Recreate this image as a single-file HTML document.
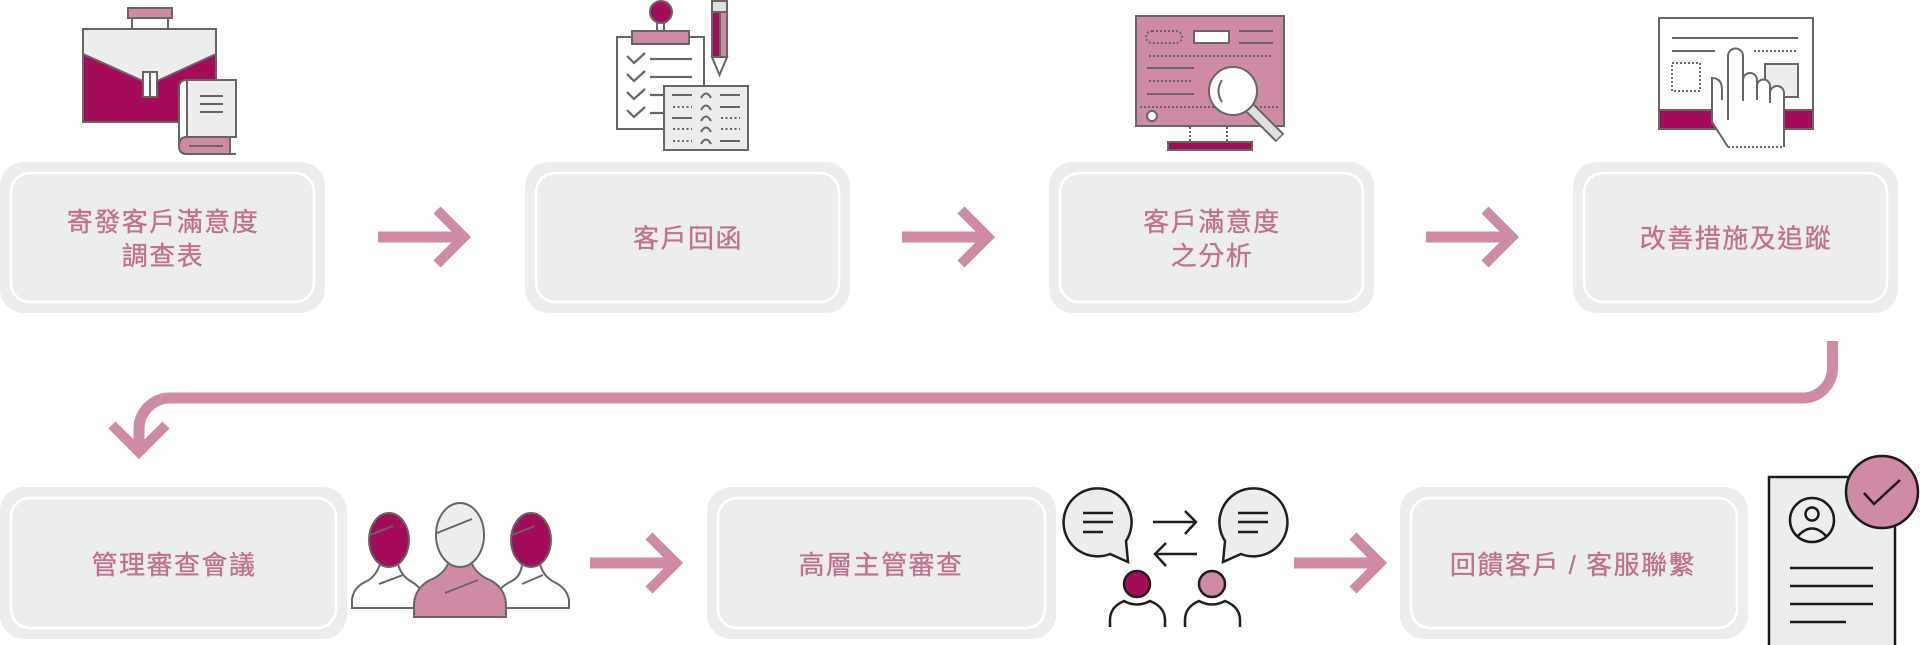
<!DOCTYPE html>
<html>
<head>
<meta charset="utf-8">
<style>
html,body{margin:0;padding:0;background:#fff;}
body{width:1920px;height:645px;overflow:hidden;}
svg{display:block;}
.t{font-family:"Liberation Sans","Noto Sans CJK TC",sans-serif;font-size:26px;fill:#c2708f;stroke:#c2708f;stroke-width:0.35px;letter-spacing:1.5px;text-anchor:middle;}
</style>
</head>
<body>
<svg width="1920" height="645" viewBox="0 0 1920 645" xmlns="http://www.w3.org/2000/svg">
<!-- ===== Boxes top row ===== -->
<g>
  <rect x="0" y="162" width="325" height="151" rx="24" fill="#eceeed"/>
  <rect x="11" y="173" width="303" height="129" rx="19" fill="none" stroke="#fff" stroke-width="2.5"/>
  <rect x="525" y="162" width="325" height="151" rx="24" fill="#eceeed"/>
  <rect x="536" y="173" width="303" height="129" rx="19" fill="none" stroke="#fff" stroke-width="2.5"/>
  <rect x="1049" y="162" width="325" height="151" rx="24" fill="#eceeed"/>
  <rect x="1060" y="173" width="303" height="129" rx="19" fill="none" stroke="#fff" stroke-width="2.5"/>
  <rect x="1573" y="162" width="325" height="151" rx="24" fill="#eceeed"/>
  <rect x="1584" y="173" width="303" height="129" rx="19" fill="none" stroke="#fff" stroke-width="2.5"/>
</g>
<!-- ===== Boxes bottom row ===== -->
<g>
  <rect x="0" y="487" width="347" height="152" rx="24" fill="#eceeed"/>
  <rect x="11" y="498" width="325" height="130" rx="19" fill="none" stroke="#fff" stroke-width="2.5"/>
  <rect x="707" y="487" width="349" height="152" rx="24" fill="#eceeed"/>
  <rect x="718" y="498" width="327" height="130" rx="19" fill="none" stroke="#fff" stroke-width="2.5"/>
  <rect x="1400" y="487" width="348" height="152" rx="24" fill="#eceeed"/>
  <rect x="1411" y="498" width="326" height="130" rx="19" fill="none" stroke="#fff" stroke-width="2.5"/>
</g>

<!-- ===== Labels ===== -->
<text class="t" x="163" y="231">寄發客戶滿意度</text>
<text class="t" x="163" y="265">調查表</text>
<text class="t" x="688" y="247.5">客戶回函</text>
<text class="t" x="1212" y="231">客戶滿意度</text>
<text class="t" x="1212" y="265">之分析</text>
<text class="t" x="1736" y="247.5">改善措施及追蹤</text>
<text class="t" x="174" y="574">管理審查會議</text>
<text class="t" x="881" y="574">高層主管審查</text>
<text class="t" x="1573" y="574">回饋客戶 / 客服聯繫</text>

<!-- ===== Arrows ===== -->
<g stroke="#cf8aa5" fill="none" stroke-linejoin="miter" stroke-linecap="butt">
  <line x1="378" y1="237" x2="464" y2="237" stroke-width="11"/>
  <polyline points="437,210 464,237 437,264" stroke-width="10"/>
  <line x1="902" y1="237" x2="988" y2="237" stroke-width="11"/>
  <polyline points="961,210 988,237 961,264" stroke-width="10"/>
  <line x1="1426" y1="237" x2="1512" y2="237" stroke-width="11"/>
  <polyline points="1485,210 1512,237 1485,264" stroke-width="10"/>

  <line x1="590" y1="563" x2="676" y2="563" stroke-width="11"/>
  <polyline points="649,536 676,563 649,590" stroke-width="10"/>
  <line x1="1294" y1="563" x2="1380" y2="563" stroke-width="11"/>
  <polyline points="1353,536 1380,563 1353,590" stroke-width="10"/>

  <path d="M1832.5 341 V368 A30 30 0 0 1 1802.5 398 H170 A31 31 0 0 0 139 429 V454" stroke-width="11"/>
  <polyline points="112,425 139,452 166,425" stroke-width="10"/>
</g>

<!-- ===== Icon 1: briefcase + book ===== -->
<g stroke="#666" stroke-width="2">
  <rect x="128" y="8" width="44" height="10" fill="#cf8aa5"/>
  <path d="M132 18 V29 M168 18 V29" fill="none"/>
  <rect x="83" y="29" width="133" height="93" fill="#a50d5a"/>
  <path d="M83 29 H216 V54 L157 81 H143 L83 54 Z" fill="#eceeed"/>
  <rect x="143" y="72" width="14" height="25" fill="#fff"/>
  <line x1="150" y1="72" x2="150" y2="97"/>
  <path d="M187 80 Q179 80 179 88 V146 Q179 137 187 137 Z" fill="#fff"/>
  <rect x="187" y="80" width="49" height="57" fill="#eceeed"/>
  <path d="M187 137 H230 V154 H187 Q179 154 179 146 Q179 137 187 137 Z" fill="#cf8aa5"/>
  <path d="M187 154 H236" fill="none"/>
  <path d="M200 96 H223 M200 104 H223 M200 112 H223 M189 146 H223" fill="none"/>
</g>

<!-- ===== Icon 2: clipboard ===== -->
<g stroke="#666" stroke-width="2">
  <rect x="617" y="37" width="87" height="92" fill="#fff"/>
  <rect x="657" y="22" width="7" height="10" fill="#fff"/>
  <circle cx="661" cy="12" r="11" fill="#a50d5a"/>
  <rect x="632" y="31" width="57" height="13" fill="#cf8aa5"/>
  <g fill="none" stroke-width="2.2">
    <path d="M627 56 L634 63 L645 53"/>
    <path d="M627 74 L634 81 L645 71"/>
    <path d="M627 92 L634 99 L645 89"/>
    <path d="M627 110 L634 117 L645 107"/>
    <path d="M650 59 H692 M650 77 H692 M650 95 H692 M650 113 H692"/>
  </g>
  <!-- pencil -->
  <rect x="712" y="1" width="15" height="11" fill="#dfe1e1"/>
  <rect x="712" y="12" width="8" height="45" fill="#a50d5a"/>
  <rect x="720" y="12" width="7" height="45" fill="#cf8aa5"/>
  <rect x="712" y="12" width="15" height="45" fill="none"/>
  <path d="M712 57 L719.5 75 L727 57 Z" fill="#fff"/>
  <!-- sheet -->
  <rect x="664" y="86" width="84" height="64" fill="#eceeed"/>
  <g fill="none" stroke-width="2">
    <path d="M672 95 H692 M672 118 H692"/>
    <path d="M673 107 H692 M673 129 H692 M673 141 H692" stroke-dasharray="2 2.5"/>
    <path d="M720 95 H740 M720 107 H740 M720 141 H740"/>
    <path d="M721 118 H740 M721 129 H740" stroke-dasharray="2 2.5"/>
    <path d="M701 98 Q706 89 711 98 M701 110 Q706 101 711 110 M701 121 Q706 112 711 121 M701 132 Q706 123 711 132 M701 144 Q706 135 711 144"/>
  </g>
</g>

<!-- ===== Icon 3: monitor + magnifier ===== -->
<g stroke="#666" stroke-width="2">
  <rect x="1136" y="16" width="148" height="110" fill="#cf8aa5"/>
  <rect x="1146" y="31" width="36" height="12" rx="6" fill="none" stroke-dasharray="2 2"/>
  <rect x="1194" y="31" width="35" height="12" fill="#fff"/>
  <path d="M1239 31 H1273 M1239 43 H1273 M1147 68 H1194 M1147 94 H1194" fill="none"/>
  <path d="M1149 56 H1272 M1149 81 H1192 M1140 107 H1280" fill="none" stroke-dasharray="2 2"/>
  <circle cx="1152" cy="116" r="5" fill="#fff"/>
  <path d="M1190 127 V142 M1227 127 V142" fill="none" stroke-dasharray="2 2"/>
  <rect x="1168" y="142" width="84" height="8" fill="#a50d5a"/>
  <line x1="1249" y1="107" x2="1280" y2="138" stroke-width="12" stroke="#666"/>
  <line x1="1250" y1="108" x2="1279" y2="137" stroke-width="8" stroke="#dfe1e1"/>
  <circle cx="1233" cy="91" r="24" fill="#fff"/>
  <path d="M1222 80 Q1215 91 1222 102" fill="none"/>
</g>

<!-- ===== Icon 4: tablet + hand ===== -->
<g stroke="#666" stroke-width="2">
  <rect x="1659" y="18" width="154" height="111" fill="#fff"/>
  <rect x="1659" y="110" width="154" height="19" fill="#a50d5a"/>
  <path d="M1672 38 H1798 M1672 51 H1715" fill="none"/>
  <path d="M1754 51 H1796" fill="none" stroke-dasharray="2 2"/>
  <rect x="1672" y="63" width="28" height="28" fill="none" stroke-dasharray="2 2"/>
  <rect x="1765" y="64" width="33" height="33" fill="#eceeed"/>
  <path d="M1712,122 V80 Q1712,76 1717,78 Q1722,82 1722,90 L1728,90 V56 Q1728,49 1735.5,49 Q1743,49 1743,56 V80 Q1743,73 1750,73 Q1757,73 1757,80 V86 Q1757,79 1763.5,79 Q1770,79 1770,86 V93 Q1770,86 1777,86 Q1784,86 1784,93 V147 H1728 Z" fill="#fff" stroke="none"/>
  <g fill="none">
    <path d="M1728 147 L1712 122 V78 Q1722 78 1722 90 V100"/>
    <path d="M1728 120 V56 A7.5 7.5 0 0 1 1743 56 V101"/>
    <path d="M1743 80 A7 7 0 0 1 1757 80 V100"/>
    <path d="M1757 86 A6.5 6.5 0 0 1 1770 86 V103"/>
    <path d="M1770 93 A7 7 0 0 1 1784 93 V147"/>
    <path d="M1728 147 H1784" stroke-dasharray="2 2"/>
  </g>
</g>

<!-- ===== People group ===== -->
<g stroke="#666" stroke-width="2">
  <path d="M352,608 V600 Q353,588 365,582 Q376,577 380,564 L398,564 Q401,576 412,582 Q422,588 426,600 V608 Z" fill="#fff"/>
  <ellipse cx="389" cy="540" rx="20" ry="27" fill="#a50d5a"/>
  <path d="M370 535 L393 526 M379 584 L403 575" fill="none"/>
  <path d="M494,608 V600 Q498,588 510,582 Q521,577 522,564 L540,564 Q543,576 554,582 Q567,588 569,600 V608 Z" fill="#fff"/>
  <ellipse cx="531" cy="540" rx="20" ry="27" fill="#a50d5a"/>
  <path d="M512 535 L535 526 M522 584 L543 575" fill="none"/>
  <path d="M414,617 V604 Q415,588 430,580 Q445,574 449,561 L471,561 Q475,574 490,580 Q505,588 506,604 V617 Z" fill="#cf8aa5"/>
  <ellipse cx="460" cy="535" rx="24" ry="32" fill="#eceeed"/>
  <path d="M437 533 L472 519 M445 593 L478 580" fill="none"/>
</g>

<!-- ===== Communication icon ===== -->
<g stroke="#1f1f1f" stroke-width="2.5" fill="none">
  <path d="M1126,541 L1128,562 L1110,554 A34 34 0 1 1 1126,541 Z" fill="#eceeed"/>
  <path d="M1083 513 H1113 M1083 522 H1113 M1083 532 H1103"/>
  <path d="M1225,541 L1223,562 L1241,554 A34 34 0 1 0 1225,541 Z" fill="#eceeed"/>
  <path d="M1238 513 H1268 M1238 522 H1268 M1238 532 H1258"/>
  <path d="M1153 522 H1195 M1185 511 L1196 522 L1185 534"/>
  <path d="M1156 554 H1197 M1166 543 L1155 554 L1166 566"/>
  <circle cx="1137" cy="584" r="13" fill="#a50d5a"/>
  <path d="M1110 627 V620 Q1110 607 1124 601 Q1137 608 1150 601 Q1165 607 1165 620 V627"/>
  <circle cx="1212" cy="584" r="13" fill="#cf8aa5"/>
  <path d="M1185 627 V620 Q1185 607 1199 601 Q1212 608 1225 601 Q1240 607 1240 620 V627"/>
</g>

<!-- ===== Document icon ===== -->
<g stroke="#1a1a1a" stroke-width="2.5" fill="none">
  <rect x="1769" y="477" width="126" height="180" fill="#eceeed"/>
  <circle cx="1812" cy="520" r="22"/>
  <circle cx="1812" cy="514" r="6.5"/>
  <path d="M1797 537 Q1812 520 1827 537"/>
  <path d="M1790 568 H1873 M1790 586 H1873 M1790 604 H1873 M1790 622 H1846"/>
  <circle cx="1882" cy="492" r="36" fill="#cf8aa5"/>
  <path d="M1864 493 L1874 504 L1900 480"/>
</g>
</svg>
</body>
</html>
